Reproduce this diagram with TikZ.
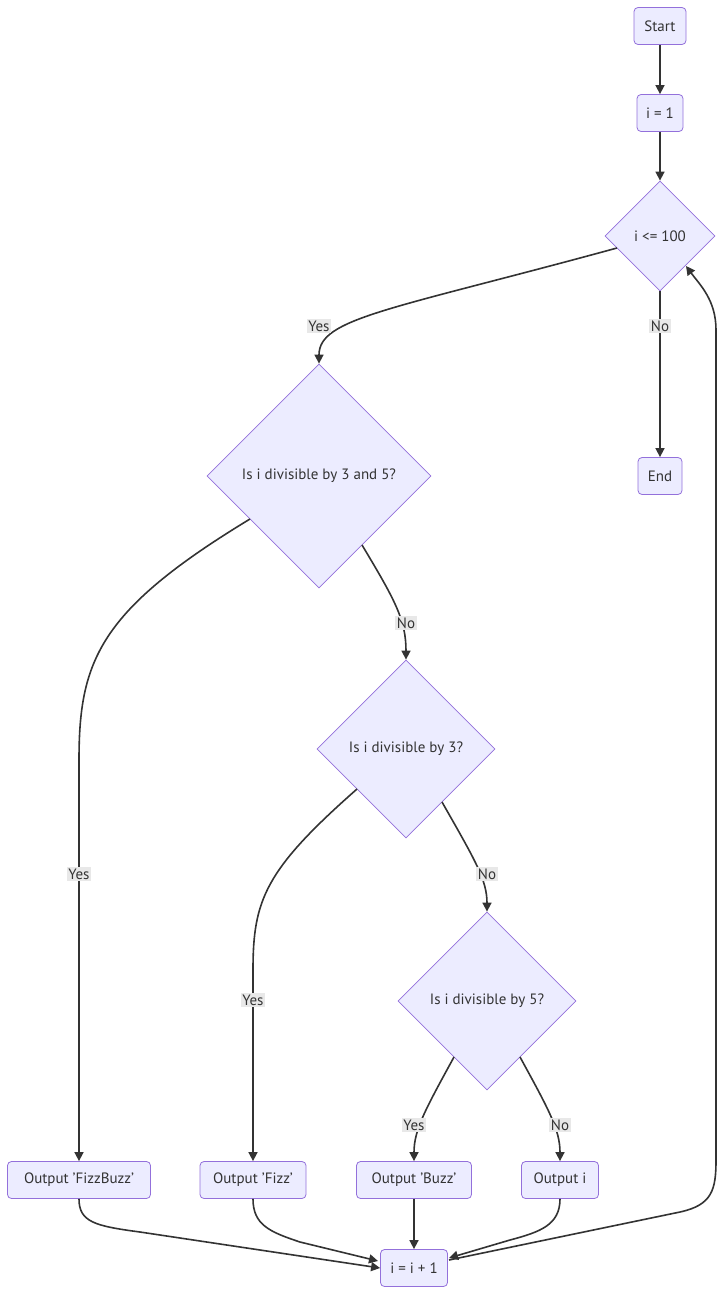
\documentclass[tikz,border=0pt]{standalone}
\usepackage{fontspec}
\setmainfont{PT Sans}
\usetikzlibrary{shapes.geometric,arrows.meta}
\definecolor{nodefill}{HTML}{ECECFF}
\definecolor{nodeline}{HTML}{9370DB}
\definecolor{edgecol}{HTML}{333333}
\definecolor{lblbg}{HTML}{E8E8E8}
\begin{document}
\begin{tikzpicture}[x=1pt,y=-1pt,
  every node/.style={font=\fontsize{15}{17}\selectfont, text=edgecol},
  procbox/.style={draw=nodeline, fill=nodefill, line width=0.8pt, rounded corners=4pt, minimum height=37pt, inner xsep=8pt},
  decision/.style={draw=nodeline, fill=nodefill, line width=0.8pt, diamond, aspect=1, inner sep=0pt},
  edge/.style={draw=edgecol, line width=1.6pt, -{Triangle[length=9pt,width=9pt]}},
  lbl/.style={fill=lblbg, inner sep=1.5pt}]
\useasboundingbox (0,0) rectangle (725,1295);
\node[procbox, minimum width=52pt] (start) at (660,26) {Start};
\node[procbox, minimum width=46pt] (init) at (660,113) {i = 1};
\node[decision, minimum width=110pt, minimum height=110pt] (d1) at (660,236) {i <= 100};
\node[procbox, minimum width=44pt] (end) at (660,476) {End};
\node[decision, minimum width=224pt, minimum height=224pt] (d35) at (319,476) {Is i divisible by 3 and 5?};
\node[decision, minimum width=178pt, minimum height=178pt] (d3) at (406,749) {Is i divisible by 3?};
\node[decision, minimum width=178pt, minimum height=178pt] (d5) at (487,1001) {Is i divisible by 5?};
\node[procbox, minimum width=143pt] (fb) at (79,1180) {Output 'FizzBuzz'};
\node[procbox, minimum width=106pt] (fizz) at (253,1180) {Output 'Fizz'};
\node[procbox, minimum width=115pt] (buzz) at (414,1180) {Output 'Buzz'};
\node[procbox, minimum width=77pt] (oi) at (560,1180) {Output i};
\node[procbox, minimum width=67pt] (inc) at (414,1268) {i = i + 1};

\coordinate (a1) at (617,248);
\coordinate (a2) at (250,519);
\coordinate (a3) at (362,545);
\coordinate (a4) at (357,789);
\coordinate (a5) at (442,802);
\coordinate (a6) at (454,1057);
\coordinate (a7) at (520,1057);
\coordinate (r1) at (716,1160);
\coordinate (r2) at (716,330);
\coordinate (rt) at (686,266);

\draw[edge] (start) -- (init);
\draw[edge] (init) -- (d1);
\draw[edge] (a1) .. controls (390,310) and (319,318) .. (d35.north);
\draw[edge] (d1) -- (end);
\draw[edge] (a2) .. controls (100,610) and (79,660) .. (79,760) -- (fb.north);
\draw[edge] (a3) .. controls (395,600) and (406,620) .. (d3.north);
\draw[edge] (a4) .. controls (265,870) and (253,900) .. (253,970) -- (fizz.north);
\draw[edge] (a5) .. controls (475,860) and (487,880) .. (d5.north);
\draw[edge] (a6) .. controls (425,1110) and (414,1130) .. (buzz.north);
\draw[edge] (a7) .. controls (549,1110) and (560,1130) .. (oi.north);
\draw[edge] (fb.south) .. controls (79,1222) and (95,1226) .. (140,1232) -- (inc.west);
\draw[edge] (fizz.south) .. controls (253,1225) and (270,1232) .. (300,1242) -- (378,1261);
\draw[edge] (buzz) -- (inc);
\draw[edge] (oi.south) .. controls (560,1225) and (540,1232) .. (510,1240) -- (449,1258);
\draw[edge] (449,1260) -- (680,1212) .. controls (712,1205) and (716,1190) .. (r1) -- (r2) .. controls (716,300) and (700,285) .. (rt);

\node[lbl] at (319,326) {Yes};
\node[lbl] at (660,326) {No};
\node[lbl] at (79,874) {Yes};
\node[lbl] at (406,623) {No};
\node[lbl] at (253,1000) {Yes};
\node[lbl] at (487,874) {No};
\node[lbl] at (414,1125) {Yes};
\node[lbl] at (560,1125) {No};
\end{tikzpicture}
\end{document}
